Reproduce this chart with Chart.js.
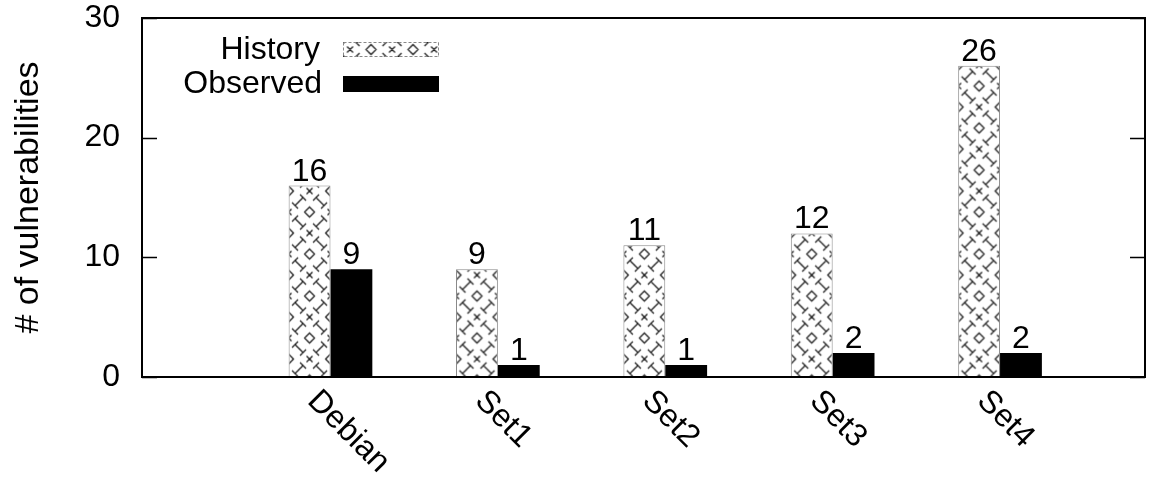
<!DOCTYPE html>
<html>
<head>
<meta charset="utf-8">
<script src="https://cdn.jsdelivr.net/npm/chart.js@4.4.1/dist/chart.umd.min.js"></script>
<style>
html, body { margin: 0; padding: 0; background: #fff; }
#wrap { width: 1159px; height: 478px; }
</style>
</head>
<body>
<div id="wrap"><canvas id="chart" width="1159" height="478"></canvas></div>
<script>
const categories = ['Debian', 'Set1', 'Set2', 'Set3', 'Set4'];
const historyValues = [16, 9, 11, 12, 26];
const observedValues = [9, 1, 1, 2, 2];
const seriesNames = ['History', 'Observed'];
const yTicks = [0, 10, 20, 30];
const yTitle = '# of vulnerabilities';

const FONT = '"Liberation Sans", Arial, Helvetica, sans-serif';

// gnuplot-like fill pattern: diamonds and crosses alternating, tilted "I" marks between
function makeHatch()
{
    const s = 21;
    const t = document.createElement('canvas');
    t.width = 2 * s; t.height = 2 * s;
    const c = t.getContext('2d');
    c.fillStyle = '#fff';
    c.fillRect(0, 0, 2 * s, 2 * s);
    c.strokeStyle = '#222';
    c.lineWidth = 1.3;
    c.beginPath();
    const h = s / 2;
    const diamond = (x, y) => {
        c.moveTo(x, y - 5); c.lineTo(x + 5, y); c.lineTo(x, y + 5); c.lineTo(x - 5, y); c.closePath();
    };
    const cross = (x, y) => {
        c.moveTo(x - 3, y - 3); c.lineTo(x + 3, y + 3);
        c.moveTo(x + 3, y - 3); c.lineTo(x - 3, y + 3);
    };
    diamond(h, h); diamond(s + h, s + h);
    cross(s + h, h); cross(h, s + h);
    for (let i = 0; i <= 2; i++)
    {
        for (let j = 0; j <= 2; j++)
        {
            const x = i * s, y = j * s;
            const d = (i + j) % 2 === 0 ? 1 : -1;
            c.moveTo(x - 4, y + 4 * d); c.lineTo(x + 4, y - 4 * d);
            c.moveTo(x - 7, y + 1 * d); c.lineTo(x - 1, y + 7 * d);
            c.moveTo(x + 1, y - 7 * d); c.lineTo(x + 7, y - 1 * d);
        }
    }
    c.stroke();
    return c.createPattern(t, 'repeat');
}

const canvas = document.getElementById('chart');
const barHatches = categories.map(() => makeHatch());
const legendHatch = makeHatch();
legendHatch.setTransform(new DOMMatrix([1, 0, 0, 1, 318.5, 39]));

const gnuplotDecor = {
    id: 'gnuplotDecor',
    beforeDatasetsDraw(chart)
    {
        // centre a diamond column on every hatched bar
        chart.getDatasetMeta(0).data.forEach((bar, i) => {
            barHatches[i].setTransform(new DOMMatrix([1, 0, 0, 1, bar.x - 10.5, 33.5]));
        });
    },
    afterDraw(chart)
    {
        const ctx = chart.ctx;
        const a = chart.chartArea;
        const ys = chart.scales.y;
        const xs = chart.scales.x;
        ctx.save();

        // border
        ctx.strokeStyle = '#000';
        ctx.lineWidth = 2;
        ctx.strokeRect(a.left, a.top, a.right - a.left, a.bottom - a.top);

        // inward y tics, mirrored
        ctx.lineWidth = 1.5;
        ctx.beginPath();
        for (const v of yTicks)
        {
            const y = Math.round(ys.getPixelForValue(v)) + 0.5;
            ctx.moveTo(a.left, y); ctx.lineTo(a.left + 15, y);
            ctx.moveTo(a.right, y); ctx.lineTo(a.right - 15, y);
        }
        ctx.stroke();

        // value labels
        ctx.fillStyle = '#000';
        ctx.font = '32px ' + FONT;
        ctx.textAlign = 'center';
        ctx.textBaseline = 'alphabetic';
        chart.data.datasets.forEach((ds, di) => {
            const meta = chart.getDatasetMeta(di);
            meta.data.forEach((bar, i) => {
                ctx.fillText(String(ds.data[i].y), bar.x, bar.y - 5);
            });
        });

        // rotated category labels
        ctx.textAlign = 'left';
        ctx.textBaseline = 'middle';
        categories.forEach((name, i) => {
            const x = xs.getPixelForValue(i);
            ctx.save();
            ctx.translate(x - 18, a.bottom + 19);
            ctx.rotate(Math.PI / 4);
            ctx.fillText(name, 0, 0);
            ctx.restore();
        });

        // legend
        ctx.textAlign = 'right';
        ctx.fillText(seriesNames[0], 320, 50);
        ctx.fillText(seriesNames[1], 322, 84);
        ctx.fillStyle = legendHatch;
        ctx.fillRect(343, 42, 96, 15);
        ctx.strokeStyle = '#888';
        ctx.lineWidth = 1;
        ctx.setLineDash([3, 2]);
        ctx.strokeRect(343.5, 42.5, 95, 14);
        ctx.setLineDash([]);
        ctx.fillStyle = '#000';
        ctx.fillRect(343, 76, 96, 16);

        ctx.restore();
    }
};

new Chart(canvas, {
    type: 'bar',
    data: {
        datasets: [
            {
                label: seriesNames[0],
                data: historyValues.map((v, i) => ({ x: i, y: v })),
                backgroundColor: barHatches,
                borderColor: '#888',
                borderWidth: 1
            },
            {
                label: seriesNames[1],
                data: observedValues.map((v, i) => ({ x: i, y: v })),
                backgroundColor: '#000',
                borderWidth: 0
            }
        ]
    },
    options: {
        responsive: false,
        animation: false,
        layout: { padding: { top: 18, right: 14 } },
        datasets: { bar: { categoryPercentage: 0.5, barPercentage: 1.0 } },
        plugins: { legend: { display: false }, tooltip: { enabled: false } },
        scales: {
            x: {
                type: 'linear',
                min: -1.126,
                max: 4.866,
                offset: false,
                grid: { display: false, drawTicks: false },
                border: { display: false },
                ticks: { display: false },
                afterBuildTicks(scale) { scale.ticks = categories.map((c, i) => ({ value: i })); },
                afterFit(scale) { scale.height = 101; }
            },
            y: {
                min: 0,
                max: 30,
                grid: { display: false, drawTicks: false },
                border: { display: false },
                ticks: {
                    stepSize: 10,
                    padding: 22,
                    color: '#000',
                    font: { family: FONT, size: 32 }
                },
                title: {
                    display: true,
                    text: yTitle,
                    color: '#000',
                    padding: { top: 8, bottom: 0 },
                    font: { family: FONT, size: 34 }
                },
                afterFit(scale)
                {
                    scale.width = 142;
                    scale.paddingTop = 0;
                    scale.paddingBottom = 0;
                }
            }
        }
    },
    plugins: [gnuplotDecor]
});
</script>
</body>
</html>
